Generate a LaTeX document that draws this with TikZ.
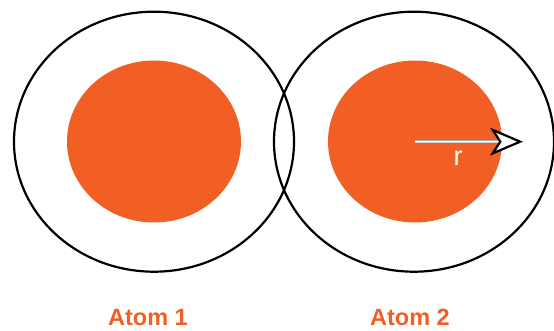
\documentclass[tikz,border=0pt]{standalone}
\usepackage{fontspec}
\setmainfont{Liberation Sans}
\usepackage{tikz}
\usetikzlibrary{arrows.meta,shapes.geometric}
\definecolor{Core}{HTML}{F15F24}

\begin{document}
\begin{tikzpicture}[x=1pt,y=1pt,
  shell/.style={draw,ellipse,line width=2.2pt,minimum width=280pt,minimum height=260pt,inner sep=0pt},
  core/.style={fill=Core,ellipse,minimum width=174pt,minimum height=162pt,inner sep=0pt},
  atomlabel/.style={text=Core,font=\fontsize{23.5}{28}\selectfont\bfseries,anchor=base}]
  \useasboundingbox (0,0) rectangle (554,330);
  \node[core] (n1) at (154,188.5) {};
  \node[core] (n2) at (415,188.5) {};
  \node[shell] (a1) at (154,188.3) {};
  \node[shell] (a2) at (414,188.3) {};
  \coordinate (rtip) at (523,188.3);
  \draw[gray,line width=3.6pt,shorten >=26pt] (n2.center) -- (rtip);
  \draw[white,line width=2pt,-{Stealth[length=33pt,width=28pt,inset=9pt,line width=2.2pt,color=black,fill=white]}] (n2.center) -- (rtip);
  \node[text=white,font=\fontsize{27}{32}\selectfont,anchor=base] (r) at (458,164.5) {r};
  \node[atomlabel] (l1) at (148,4.5) {Atom 1};
  \node[atomlabel] (l2) at (410,4.5) {Atom 2};
\end{tikzpicture}
\end{document}
